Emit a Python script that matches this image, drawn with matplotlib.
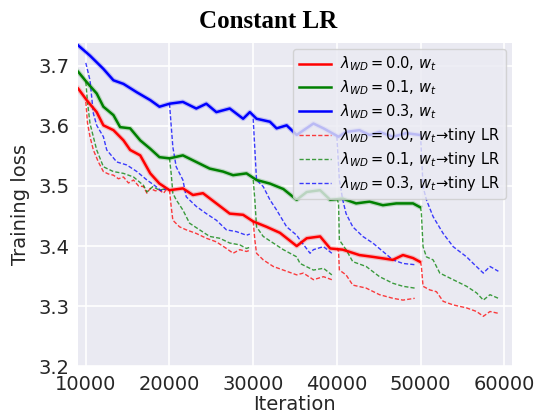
import numpy as np
import matplotlib
matplotlib.use("Agg")
import matplotlib.pyplot as plt

# -----------------------------
# データ
# -----------------------------
wd_labels = ["0.0", "0.1", "0.3"]
colors = ["red", "green", "blue"]

# 定数LRでの学習曲線 w_t
red_x = [9100, 10100, 11300, 12100, 13300, 14500, 15300, 16500, 17700, 18800, 20000,
         21600, 22800, 24000, 25600, 27200, 28800, 30000, 31600, 33200, 35200, 36400,
         38000, 39200, 40700, 42700, 44300, 46700, 47900, 49100, 49900]
red_y = [3.662, 3.643, 3.623, 3.601, 3.593, 3.576, 3.560, 3.551, 3.521, 3.504, 3.493,
         3.496, 3.485, 3.488, 3.471, 3.454, 3.452, 3.441, 3.432, 3.422, 3.400, 3.413,
         3.416, 3.396, 3.394, 3.385, 3.382, 3.377, 3.385, 3.380, 3.374]

green_x = [9100, 10100, 11300, 12100, 13300, 14100, 15300, 16500, 17700, 18800, 20000,
           21600, 23200, 24800, 26400, 27600, 29200, 30400, 32000, 33600, 35200, 36400,
           38000, 39200, 40700, 42300, 43900, 45500, 47100, 49100, 49900]
green_y = [3.690, 3.673, 3.654, 3.632, 3.618, 3.598, 3.596, 3.576, 3.562, 3.548, 3.546,
           3.551, 3.540, 3.529, 3.524, 3.518, 3.521, 3.510, 3.504, 3.495, 3.477, 3.490,
           3.493, 3.477, 3.479, 3.471, 3.474, 3.468, 3.471, 3.471, 3.465]

blue_x = [9100, 10500, 12100, 13300, 14500, 16100, 17700, 18800, 20000, 21600, 23200,
          24400, 25600, 27200, 28800, 29600, 30400, 32000, 32800, 34000, 35200, 37200,
          38400, 40200, 41100, 42700, 43900, 45100, 46700, 48300, 49900]
blue_y = [3.734, 3.717, 3.695, 3.676, 3.670, 3.656, 3.643, 3.632, 3.637, 3.640, 3.629,
          3.637, 3.623, 3.629, 3.612, 3.623, 3.612, 3.607, 3.596, 3.601, 3.585, 3.604,
          3.596, 3.582, 3.590, 3.593, 3.585, 3.590, 3.582, 3.588, 3.585]

# w_t -> tiny LR（10000ごとに分岐）
tiny_red = [
    ([10000, 10200, 10500, 10900, 11500, 12100, 12700, 13300, 13900, 14500, 15100, 15700,
      16300, 16900, 17300, 17700, 18300, 18800, 19300, 19700],
     [3.640, 3.605, 3.582, 3.560, 3.540, 3.524, 3.520, 3.518, 3.512, 3.515, 3.505, 3.510,
      3.500, 3.499, 3.488, 3.496, 3.492, 3.493, 3.488, 3.496]),
    ([20000, 20200, 20400, 21200, 22000, 23200, 24400, 25600, 26800, 27600, 28400, 29200, 29600],
     [3.493, 3.466, 3.443, 3.432, 3.427, 3.421, 3.413, 3.407, 3.396, 3.388, 3.394, 3.391, 3.393]),
    ([30000, 30200, 30400, 31200, 32400, 33600, 35200, 36000, 37200, 38400, 39400],
     [3.441, 3.410, 3.388, 3.377, 3.366, 3.360, 3.352, 3.355, 3.344, 3.349, 3.344]),
    ([40000, 40200, 40300, 41100, 41900, 43500, 45100, 46700, 47900, 49300],
     [3.397, 3.391, 3.360, 3.352, 3.335, 3.330, 3.319, 3.313, 3.310, 3.313]),
    ([50000, 50100, 50300, 51100, 51900, 52700, 53900, 55500, 56700, 57500, 58300, 59300],
     [3.374, 3.366, 3.333, 3.327, 3.324, 3.308, 3.302, 3.297, 3.291, 3.283, 3.291, 3.288]),
]
tiny_green = [
    ([10000, 10200, 10500, 11300, 12100, 12700, 13300, 14500, 15700, 16900, 17300, 18000, 18800, 19700],
     [3.673, 3.640, 3.604, 3.560, 3.532, 3.528, 3.524, 3.521, 3.515, 3.501, 3.490, 3.499, 3.493, 3.496]),
    ([20000, 20200, 20400, 20800, 21600, 22400, 23600, 24800, 26000, 27200, 28400, 29200, 29600],
     [3.546, 3.521, 3.488, 3.477, 3.460, 3.438, 3.427, 3.416, 3.413, 3.405, 3.402, 3.396, 3.398]),
    ([30000, 30200, 30400, 31200, 32400, 33600, 35200, 35600, 37200, 38400, 39400],
     [3.510, 3.477, 3.432, 3.416, 3.405, 3.394, 3.382, 3.371, 3.360, 3.363, 3.352]),
    ([40000, 40200, 40300, 41100, 41900, 43500, 45100, 46700, 47900, 49300],
     [3.479, 3.471, 3.410, 3.394, 3.374, 3.366, 3.349, 3.338, 3.333, 3.330]),
    ([50000, 50100, 50300, 50700, 51500, 52300, 53900, 55500, 56700, 57500, 58300, 59300],
     [3.465, 3.454, 3.399, 3.382, 3.377, 3.355, 3.344, 3.333, 3.322, 3.310, 3.319, 3.313]),
]
tiny_blue = [
    ([10000, 10500, 10900, 11300, 12100, 12500, 13700, 14900, 16100, 17300, 18400, 19000, 19700],
     [3.705, 3.676, 3.621, 3.601, 3.582, 3.560, 3.540, 3.535, 3.524, 3.510, 3.499, 3.492, 3.496]),
    ([20000, 20400, 20800, 21600, 22000, 23200, 24400, 25600, 26800, 28000, 29200, 29600],
     [3.637, 3.565, 3.532, 3.510, 3.482, 3.466, 3.454, 3.443, 3.427, 3.424, 3.418, 3.420]),
    ([30000, 30400, 31200, 32000, 32800, 34000, 35200, 35600, 36800, 37200, 38400, 39400],
     [3.612, 3.510, 3.499, 3.477, 3.460, 3.432, 3.418, 3.410, 3.388, 3.394, 3.399, 3.388]),
    ([40000, 40300, 40700, 41100, 41900, 43100, 44300, 45500, 46700, 47900, 49300],
     [3.582, 3.510, 3.477, 3.454, 3.432, 3.416, 3.405, 3.391, 3.377, 3.371, 3.369]),
    ([50000, 50300, 50700, 51500, 52700, 53900, 55500, 56300, 57500, 58300, 59300],
     [3.585, 3.499, 3.477, 3.449, 3.421, 3.399, 3.382, 3.371, 3.355, 3.366, 3.358]),
]

x_ticks = [10000, 20000, 30000, 40000, 50000, 60000]
y_ticks = [3.2, 3.3, 3.4, 3.5, 3.6, 3.7]

# -----------------------------
# 描画
# -----------------------------
plt.rcParams["font.family"] = ["DejaVu Sans"]
fig = plt.figure(figsize=(5.37, 4.18), dpi=100)
ax = fig.add_axes([0.145, 0.124, 0.808, 0.773])
ax.set_facecolor("#EAEAF2")
for s in ax.spines.values():
    s.set_visible(False)
ax.grid(True, color="white", linewidth=1.2)
ax.set_axisbelow(True)

solids = [(red_x, red_y), (green_x, green_y), (blue_x, blue_y)]
tinies = [tiny_red, tiny_green, tiny_blue]

handles = []
for (sx, sy), c, lab in zip(solids, colors, wd_labels):
    ax.plot(sx, sy, color=c, linewidth=3.5, alpha=0.2, zorder=2)
    h, = ax.plot(sx, sy, color=c, linewidth=1.8, zorder=3,
                 label=r"$\lambda_{WD}=%s$, $w_t$" % lab)
    handles.append(h)
for branches, c, lab in zip(tinies, colors, wd_labels):
    for i, (bx, by) in enumerate(branches):
        h, = ax.plot(bx, by, color=c, linewidth=1.0, linestyle="--",
                     dashes=(3, 1.5), alpha=0.75, zorder=2,
                     label=r"$\lambda_{WD}=%s$, $w_t\!\rightarrow\!$tiny LR" % lab)
        if i == 0:
            handles.append(h)

ax.set_xlim(9050, 60900)
ax.set_ylim(3.2, 3.738)
ax.set_xticks(x_ticks)
ax.set_yticks(y_ticks)
ax.tick_params(axis="both", labelsize=14, length=0, pad=6, colors="#262626")
ax.set_xlabel("Iteration", fontsize=14, color="#262626", labelpad=1)
ax.set_ylabel("Training loss", fontsize=14, color="#262626", labelpad=6)

leg = ax.legend(handles=handles, loc="upper right", fontsize=10.5,
                framealpha=0.8, facecolor="#EAEAF2", edgecolor="#CCCCCC",
                borderaxespad=0.4, labelspacing=0.35, handlelength=2.2,
                handletextpad=0.6)

fig.suptitle("Constant LR", x=0.5, y=0.975, fontsize=18, fontweight="bold",
             family=["Liberation Serif", "DejaVu Serif"])

fig.savefig("out.png", dpi=100)
